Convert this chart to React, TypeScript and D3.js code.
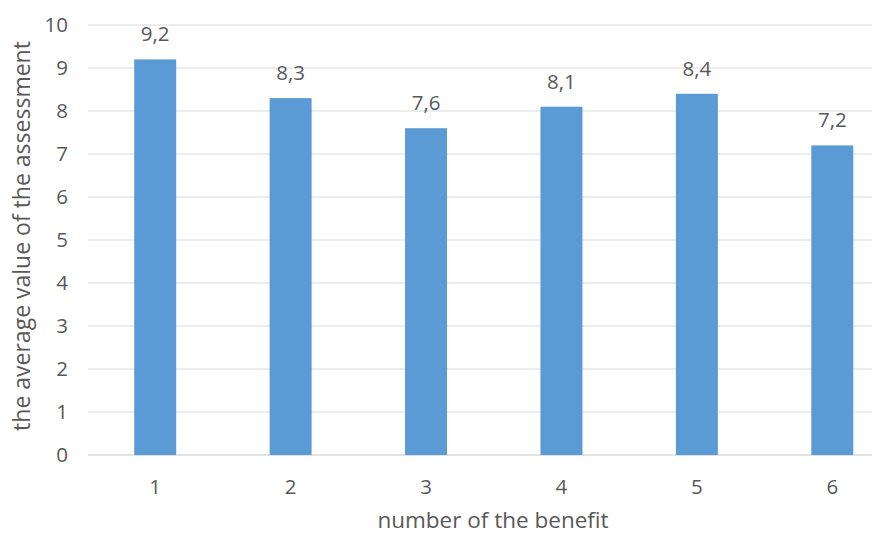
import React from "react";
import * as d3 from "d3";

const categories = ["1", "2", "3", "4", "5", "6"];
const values = [9.2, 8.3, 7.6, 8.1, 8.4, 7.2];
const yTicks = [0, 1, 2, 3, 4, 5, 6, 7, 8, 9, 10];
const xTitle = "number of the benefit";
const yTitle = "the average value of the assessment";

const W = 872;
const H = 536;
const FONT = "'Open Sans', 'Liberation Sans', sans-serif";
const TXT = "#595959";

export default function App() {
  const x = d3.scaleBand<string>().domain(categories).range([87.5, 900]).paddingInner(0.69).paddingOuter(0.345);
  const y = d3.scaleLinear().domain([0, 10]).range([455, 25]);
  const fmt = (v: number) => d3.format(".1f")(v).replace(".", ",");
  return (
    <svg width={W} height={H} style={{ position: "absolute", left: 0, top: 0, background: "#fff" }}>
      <rect x={0} y={0} width={W} height={H} fill="#fff" />
      {yTicks.map((t) => (
        <g key={t}>
          <line x1={88} x2={900} y1={y(t)} y2={y(t)} stroke="#d9d9d9" strokeWidth={t === 0 ? 1.5 : 1.2} />
          <text x={68} y={y(t)} dy="0.36em" textAnchor="end" fontFamily={FONT} fontSize={20.5} fill={TXT}>
            {t}
          </text>
        </g>
      ))}
      {categories.map((c, i) => (
        <g key={c}>
          <rect x={x(c)!} y={y(values[i])} width={x.bandwidth()} height={y(0) - y(values[i])} fill="#5b9bd5" />
          <text x={x(c)! + x.bandwidth() / 2} y={y(values[i]) - 18} textAnchor="middle" fontFamily={FONT} fontSize={20.5} fill={TXT}>
            {fmt(values[i])}
          </text>
          <text x={x(c)! + x.bandwidth() / 2} y={494} textAnchor="middle" fontFamily={FONT} fontSize={20.5} fill={TXT}>
            {c}
          </text>
        </g>
      ))}
      <text x={493} y={528} textAnchor="middle" fontFamily={FONT} fontSize={22.5} fill={TXT}>
        {xTitle}
      </text>
      <text transform={`translate(30,236) rotate(-90)`} textAnchor="middle" fontFamily={FONT} fontSize={23} fill={TXT}>
        {yTitle}
      </text>
    </svg>
  );
}
